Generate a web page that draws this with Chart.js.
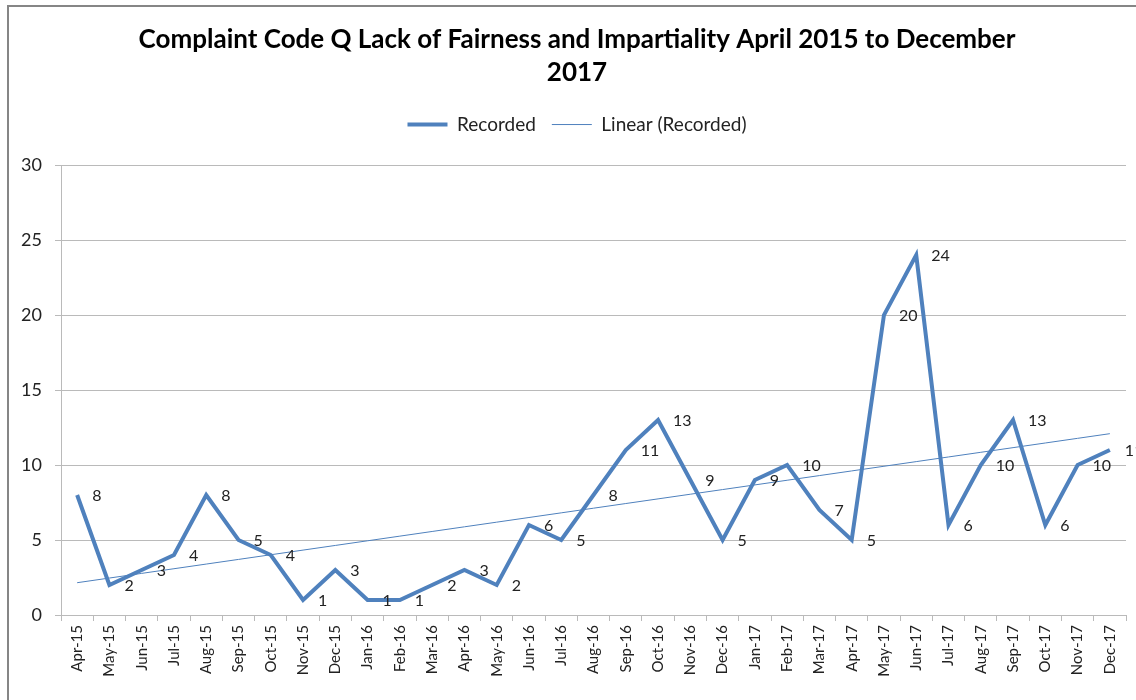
<!DOCTYPE html>
<html>
<head>
<meta charset="utf-8">
<script src="https://cdn.jsdelivr.net/npm/chart.js@4/dist/chart.umd.min.js"></script>
<style>
  html, body { margin: 0; padding: 0; background: #fff; }
  #wrap { width: 1136px; height: 700px; position: relative; }
</style>
</head>
<body>
<div id="wrap"><canvas id="chart" width="1136" height="700"></canvas></div>
<script>
"use strict";

var months = ["Apr-15", "May-15", "Jun-15", "Jul-15", "Aug-15", "Sep-15", "Oct-15", "Nov-15", "Dec-15",
  "Jan-16", "Feb-16", "Mar-16", "Apr-16", "May-16", "Jun-16", "Jul-16", "Aug-16", "Sep-16", "Oct-16",
  "Nov-16", "Dec-16", "Jan-17", "Feb-17", "Mar-17", "Apr-17", "May-17", "Jun-17", "Jul-17", "Aug-17",
  "Sep-17", "Oct-17", "Nov-17", "Dec-17"];

var recorded = [8, 2, 3, 4, 8, 5, 4, 1, 3,
  1, 1, 2, 3, 2, 6, 5, 8, 11, 13,
  9, 5, 9, 10, 7, 5, 20, 24, 6, 10,
  13, 6, 10, 11];

var title_lines = ["Complaint Code Q Lack of Fairness and Impartiality April 2015 to December", "2017"];
var y_ticks = { min: 0, max: 30, step: 5 };

var colors = {
  line: "#4F81BD",
  trend: "#4F81BD",
  grid: "#BABABA",
  text: "#000000",
  border: "#868686"
};

// least squares fit, same as the spreadsheet's linear trendline
function linear_trend(data) {
  var n = data.length;
  var sx = 0, sy = 0, sxy = 0, sxx = 0;
  for (var i = 0; i < n; i++) {
    var x = i + 1;
    sx += x; sy += data[i]; sxy += x * data[i]; sxx += x * x;
  }
  var slope = (n * sxy - sx * sy) / (n * sxx - sx * sx);
  var icept = (sy - slope * sx) / n;
  return data.map(function(d, i) { return icept + slope * (i + 1); });
}

var outer_border = {
  id: "outer_border",
  beforeDraw: function(chart) {
    var ctx = chart.ctx;
    ctx.save();
    ctx.strokeStyle = colors.border;
    ctx.lineWidth = 2;
    ctx.strokeRect(8, 6, 1200, 800);
    ctx.restore();
  }
};

// leave a gap under the legend like the original has
var legend_gap = {
  id: "legend_gap",
  afterInit: function(chart) {
    var lg = chart.legend;
    if (!lg || lg._gapped) return;
    var orig = lg.fit;
    lg.fit = function() {
      orig.call(this);
      this.height += 21;
    };
    lg._gapped = true;
  },
  // the original chart runs past the right edge, so title and legend sit right of centre
  afterLayout: function(chart) {
    chart.titleBlock.left += 28;
    chart.legend.left += 28;
  }
};

var value_labels = {
  id: "value_labels",
  afterDatasetsDraw: function(chart) {
    var ctx = chart.ctx;
    var meta = chart.getDatasetMeta(0);
    ctx.save();
    ctx.font = "16px Lato";
    ctx.fillStyle = "#222";
    ctx.textAlign = "left";
    ctx.textBaseline = "middle";
    meta.data.forEach(function(pt, i) {
      ctx.fillText(String(recorded[i]), pt.x + 15, pt.y + 1);
    });
    ctx.restore();
  }
};

var chart = new Chart(document.getElementById("chart"), {
  type: "line",
  data: {
    labels: months,
    datasets: [
      {
        label: "Recorded",
        data: recorded,
        borderColor: colors.line,
        backgroundColor: colors.line,
        borderWidth: 4,
        pointRadius: 0,
        pointHoverRadius: 0,
        fill: false,
        tension: 0
      },
      {
        label: "Linear (Recorded)",
        data: linear_trend(recorded),
        borderColor: colors.trend,
        backgroundColor: colors.trend,
        borderWidth: 1,
        pointRadius: 0,
        pointHoverRadius: 0,
        fill: false,
        tension: 0
      }
    ]
  },
  options: {
    responsive: false,
    animation: false,
    layout: { padding: { top: 0, right: 10, bottom: 0, left: 0 } },
    plugins: {
      tooltip: { enabled: false },
      title: {
        display: true,
        text: title_lines,
        color: colors.text,
        font: { family: "Lato", size: 26, weight: "bold", lineHeight: 1.27 },
        padding: { top: 23, bottom: 10 }
      },
      legend: {
        display: true,
        position: "top",
        labels: {
          color: "#222",
          font: { family: "Lato", size: 19 },
          usePointStyle: true,
          pointStyle: "line",
          pointStyleWidth: 40,
          boxHeight: 19,
          padding: 16
        }
      }
    },
    scales: {
      x: {
        type: "category",
        offset: true,
        grid: {
          display: true,
          offset: true,
          drawOnChartArea: false,
          drawTicks: true,
          tickLength: 6,
          color: colors.grid
        },
        border: { display: true, color: colors.grid, width: 1 },
        ticks: {
          color: "#222",
          font: { family: "Lato", size: 15 },
          minRotation: 90,
          maxRotation: 90,
          autoSkip: false,
          padding: 4
        },
        afterFit: function(scale) { scale.height = 85; }
      },
      y: {
        min: y_ticks.min,
        max: y_ticks.max,
        grid: {
          color: colors.grid,
          tickLength: 6,
          drawTicks: true
        },
        border: { display: true, color: colors.grid, width: 1 },
        ticks: {
          stepSize: y_ticks.step,
          color: "#222",
          font: { family: "Lato", size: 18 },
          padding: 13
        },
        afterFit: function(scale) { scale.width = 61; }
      }
    }
  },
  plugins: [outer_border, legend_gap, value_labels]
});
</script>
</body>
</html>
